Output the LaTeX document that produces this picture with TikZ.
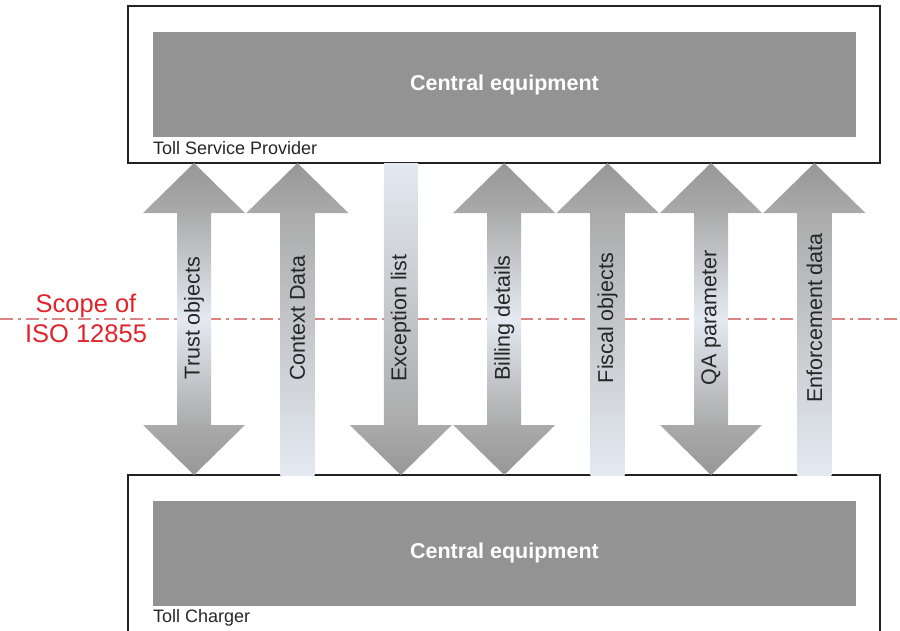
\documentclass[tikz,border=0pt]{standalone}
\usepackage{fontspec}
\setmainfont{Liberation Sans}
\usetikzlibrary{calc}

\definecolor{boxline}{HTML}{222222}
\definecolor{eqgray}{HTML}{939393}
\definecolor{headgray}{HTML}{AAAAAA}
\definecolor{tipgray}{HTML}{979797}
\definecolor{shaftgray}{HTML}{ABABAB}
\definecolor{shaftlight}{HTML}{E4E9F2}
\definecolor{scopered}{HTML}{E0242C}
\definecolor{scopeline}{HTML}{DA8484}

\begin{document}
\begin{tikzpicture}
  [x=1pt,y=-1pt,
   outerN/.style={draw=boxline,line width=1.8pt,minimum width=752pt,inner sep=0pt,outer sep=0pt},
   equipN/.style={fill=eqgray,minimum width=703pt,minimum height=105pt,inner sep=0pt,
                  text=white,font=\fontsize{21.5}{24}\selectfont\bfseries},
   partyN/.style={anchor=base west,inner sep=0pt,text=black!85,font=\fontsize{18}{20}\selectfont},
   flowN/.style={rotate=90,inner sep=0pt,text=black!85,font=\fontsize{21.5}{24}\selectfont},
   uphead/.style={top color=tipgray,bottom color=headgray},
   downhead/.style={top color=headgray,bottom color=tipgray}]

  \useasboundingbox (0,0) rectangle (900,630);
  \clip (0,0) rectangle (900,630);

  % the two parties
  \node at (504,84.5) [outerN,minimum height=157pt] (tsp) {};
  \node at (504,475) [outerN,minimum height=200pt,anchor=north] (tc) {};
  \node at (504.5,84.5) [equipN] (tspeq) {Central equipment};
  \node at (504.5,553) [equipN] (tceq) {Central equipment};
  \node at (153,154) [partyN] (tsplbl) {Toll Service Provider};
  \node at (153,622) [partyN] (tclbl) {Toll Charger};

  % scope of the standard
  \coordinate (scopeW) at (0,319);
  \coordinate (scopeE) at (900,319);
  \draw [scopeline,line width=2pt,dash pattern=on 13pt off 5pt on 3pt off 5pt] (scopeW) -- (scopeE);
  \node at (86,318) [align=center,inner sep=0pt,text=scopered,font=\fontsize{25.5}{30}\selectfont] (scope) {Scope of\\ISO 12855};

  \foreach \x [count=\i] in {194,297.4,400.8,504.2,607.6,711,814.4}
    \coordinate (col\i) at (\x,318);

  % two-way flows
  \foreach \i in {1,4,6}{
    \shade [top color=shaftgray,bottom color=shaftgray,middle color=shaftlight]
      ($(col\i |- tsp.south)+(-17,49.5)$) rectangle ($(col\i |- tc.north)+(17,-49.5)$);
    \shade [uphead] (col\i |- tsp.south) -- ++(51,50) -- ++(-102,0) -- cycle;
    \shade [downhead] (col\i |- tc.north) -- ++(51,-50) -- ++(-102,0) -- cycle;
  }
  % towards the service provider
  \foreach \i in {2,5,7}{
    \shade [top color=shaftgray,bottom color=shaftlight]
      ($(col\i |- tsp.south)+(-17,49.5)$) rectangle ($(col\i |- tc.north)+(17,0)$);
    \shade [uphead] (col\i |- tsp.south) -- ++(51,50) -- ++(-102,0) -- cycle;
  }
  % towards the toll charger
  \foreach \i in {3}{
    \shade [top color=shaftlight,bottom color=shaftgray]
      ($(col\i |- tsp.south)+(-17,0)$) rectangle ($(col\i |- tc.north)+(17,-49.5)$);
    \shade [downhead] (col\i |- tc.north) -- ++(51,-50) -- ++(-102,0) -- cycle;
  }

  \foreach \txt [count=\i] in {Trust objects,Context Data,Exception list,Billing details,
                               Fiscal objects,QA parameter,Enforcement data}
    \node at (col\i) [flowN] (flow\i) {\txt};
\end{tikzpicture}
\end{document}
